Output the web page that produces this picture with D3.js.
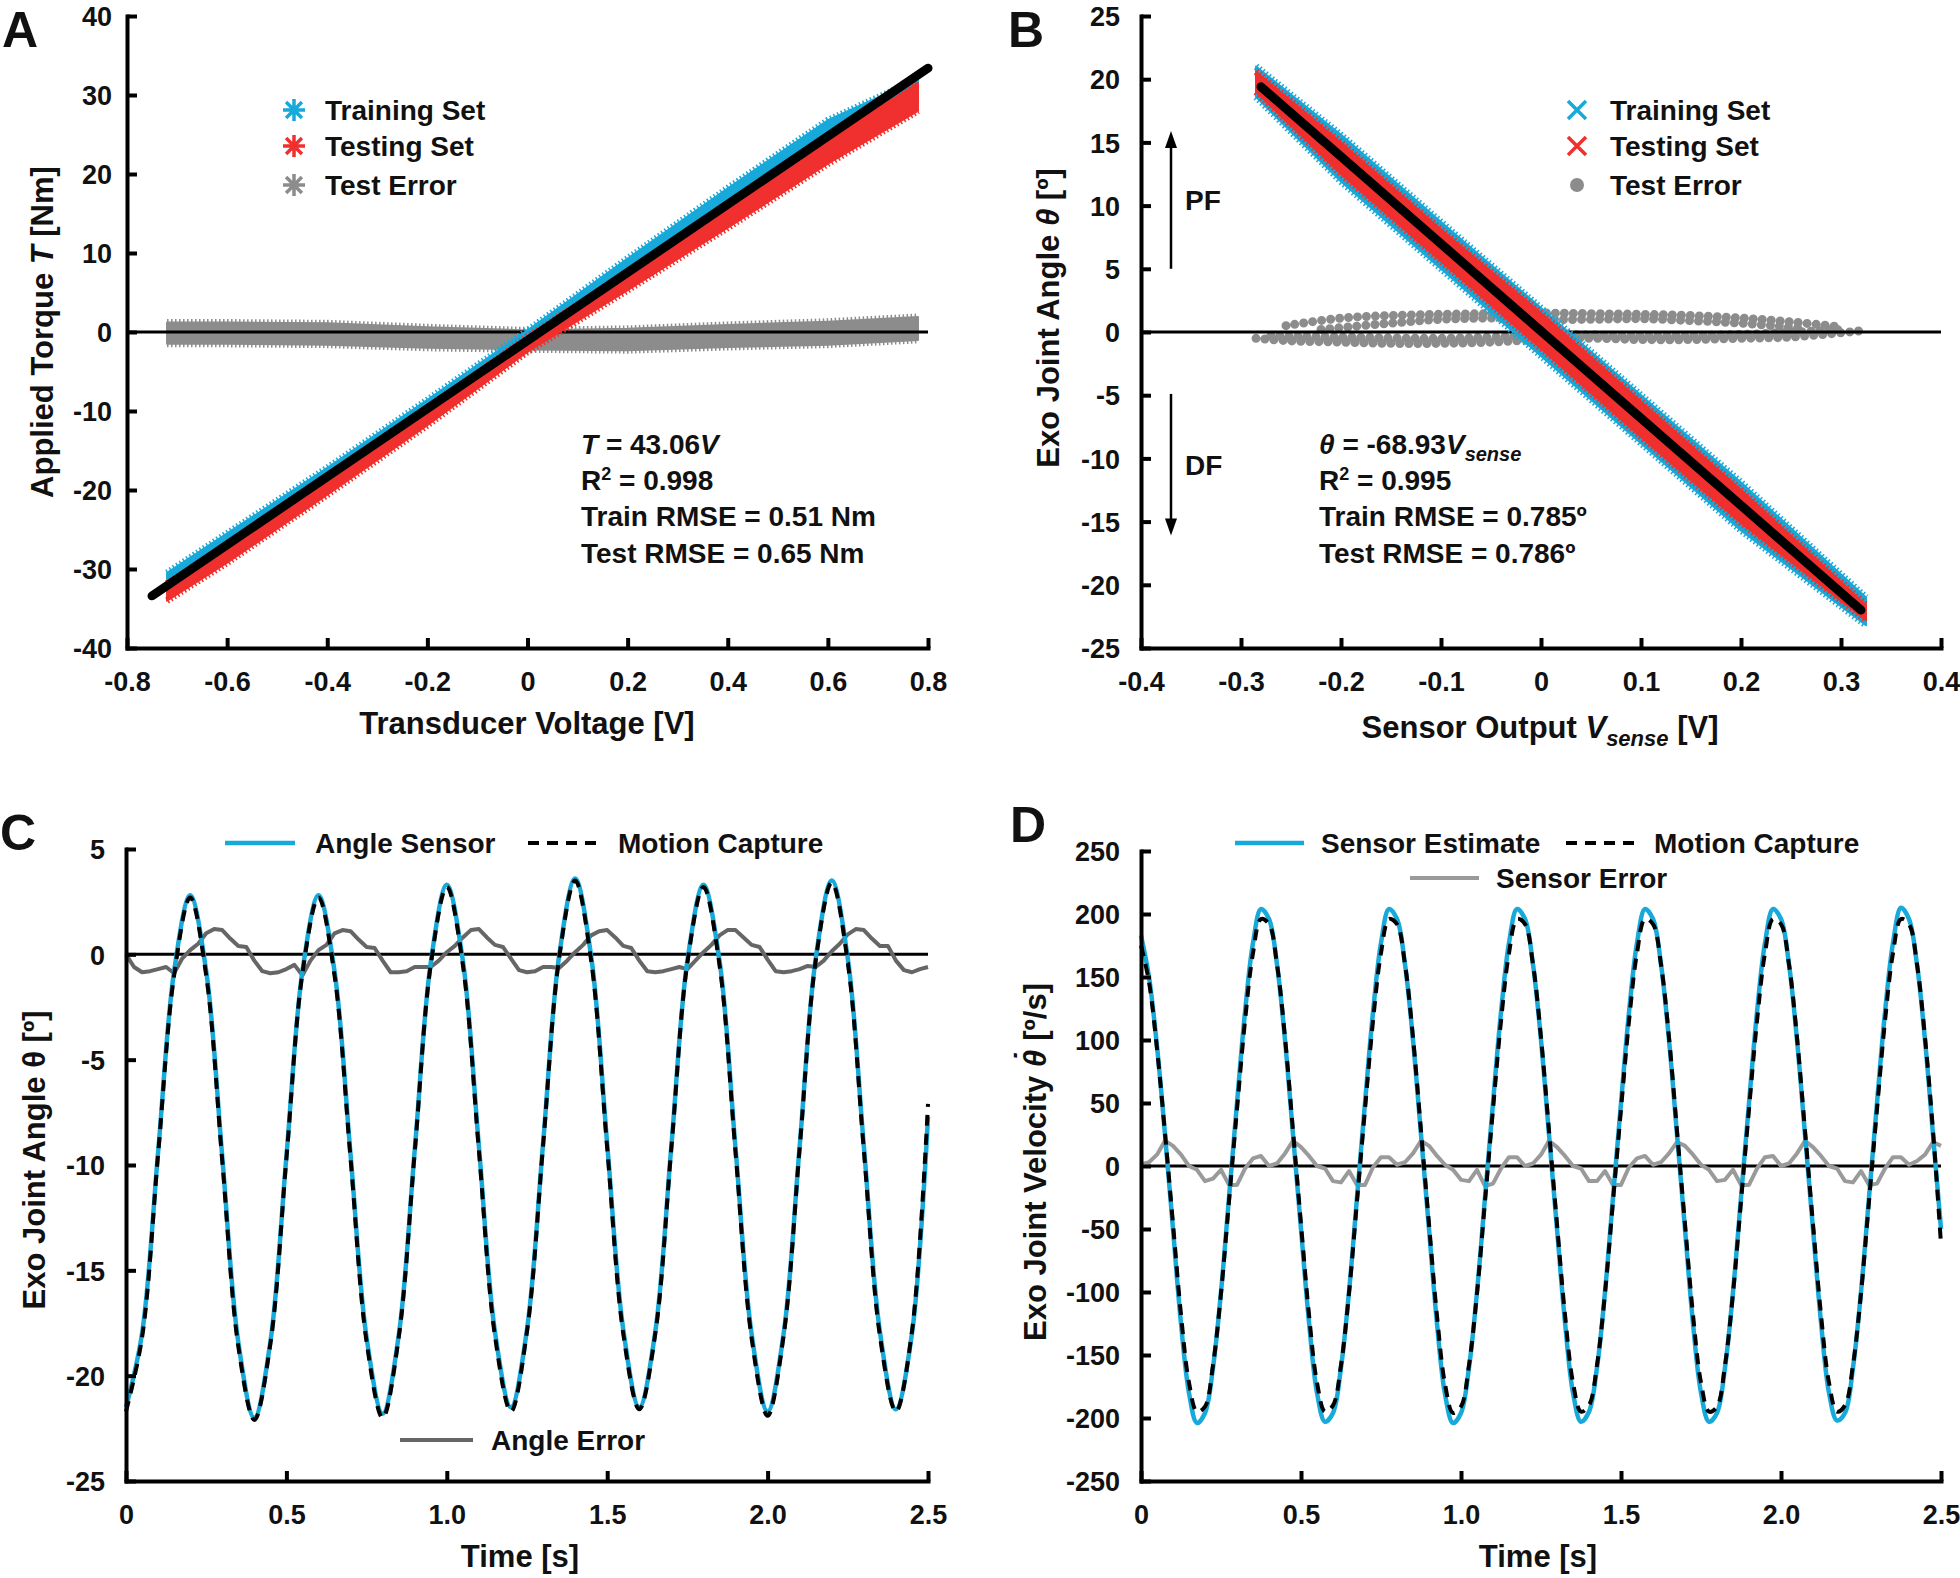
<!DOCTYPE html>
<html>
<head>
<meta charset="utf-8">
<script src="https://cdn.jsdelivr.net/npm/d3@7"></script>
<style>
body{margin:0;background:#fff;}
svg text{font-family:"Liberation Sans",Arial,sans-serif;font-weight:bold;fill:#111;}
</style>
</head>
<body>
<svg id="fig" width="1960" height="1578"></svg>
<script>
var cyan='#17a9d9', red='#f0302e';

// ---- panel A : torque calibration ----
var aBandV    = [-0.72, -0.6, -0.4, -0.2, 0, 0.2, 0.4, 0.6, 0.78];
var aTrainTop = [-30.5, -25.5, -17.2, -8.6, 0.2, 9.3, 18.2, 26.8, 32.0];
var aTrainBot = [-33.0, -28.5, -19.8, -11.0, -2.3, 6.0, 14.8, 23.5, 29.5];
var aTestTop  = [-31.8, -27.0, -18.6, -9.8, -0.6, 7.5, 15.8, 24.3, 31.5];
var aTestBot  = [-34.0, -29.2, -20.6, -11.8, -2.5, 5.3, 13.2, 21.3, 28.0];
var aErrTop   = [1.2, 1.2, 1.1, 0.6, 0.2, 0.4, 0.9, 1.3, 1.9];
var aErrBot   = [-1.5, -1.5, -1.6, -2.0, -2.2, -2.3, -1.9, -1.6, -1.0];
var aFitV = [-0.75, 0.80], aFitT = [-33.4, 33.4];
var aXTicks = [-0.8,-0.6,-0.4,-0.2,0,0.2,0.4,0.6,0.8];
var aXLabels = ['-0.8','-0.6','-0.4','-0.2','0','0.2','0.4','0.6','0.8'];
var aYTicks = [-40,-30,-20,-10,0,10,20,30,40];

// ---- panel B : angle sensor calibration ----
var bBandV    = [-0.285, -0.2, -0.1, 0, 0.1, 0.2, 0.325];
var bTrainTop = [21.0, 15.6, 8.7, 1.9, -5.0, -11.9, -21.0];
var bTrainBot = [18.6, 11.9, 5.0, -1.9, -8.8, -15.7, -23.2];
var bTestTop  = [20.6, 15.0, 8.1, 1.5, -5.5, -12.5, -21.6];
var bTestBot  = [19.0, 12.5, 5.6, -1.3, -8.3, -15.1, -22.8];
var bFitV = [-0.28, 0.32], bFitA = [19.4, -22.0];
var bErrV1 = [-0.255,-0.2,-0.15,-0.1,-0.05,0,0.05,0.1,0.15,0.2,0.25,0.3];
var bErrA1 = [0.5,1.1,1.3,1.4,1.45,1.5,1.45,1.4,1.3,1.1,0.8,0.4];
var bErrV2 = [-0.22,-0.15,-0.1,-0.05,0,0.05,0.1,0.15,0.2,0.26];
var bErrA2 = [0.2,0.7,1.0,1.1,1.0,1.0,1.05,0.9,0.7,0.3];
var bErrV3 = [-0.285,-0.25,-0.2,-0.15,-0.1,-0.05,0,0.05,0.1,0.15,0.2,0.25,0.32];
var bErrA3 = [-0.5,-0.7,-0.8,-0.9,-0.9,-0.8,-0.6,-0.5,-0.6,-0.6,-0.5,-0.4,0.1];
var bErrV4 = [-0.27,-0.2,-0.1,-0.05,0,0.1,0.2,0.3];
var bErrA4 = [-0.3,-0.4,-0.5,-0.4,-0.2,-0.3,-0.2,0.2];
var bXTicks = [-0.4,-0.3,-0.2,-0.1,0,0.1,0.2,0.3,0.4];
var bXLabels = ['-0.4','-0.3','-0.2','-0.1','0','0.1','0.2','0.3','0.4'];
var bYTicks = [-25,-20,-15,-10,-5,0,5,10,15,20,25];

// ---- panel C : joint angle over time (0.05 s samples) ----
var cSensor = [-21.5,-18.0,-9.4,-0.8,2.8,-0.8,-9.6,-18.4,-22.0,-18.4,-9.6,-0.8,2.8,-0.8,-9.5,-18.2,
  -21.8,-18.1,-9.3,-0.4,3.3,-0.3,-9.1,-17.9,-21.5,-17.8,-9.0,-0.1,3.6,-0.1,-9.0,-17.8,
  -21.5,-17.9,-9.1,-0.3,3.3,-0.3,-9.2,-18.0,-21.7,-18.0,-9.1,-0.2,3.5,-0.2,-9.1,-17.9,-21.6,-18.0,-7.7];
var cMocap = [-21.7,-18.2,-9.5,-1.0,2.7,-1.0,-9.8,-18.6,-22.1,-18.5,-9.7,-0.9,2.7,-1.0,-9.7,-18.4,
  -22.0,-18.2,-9.4,-0.5,3.2,-0.5,-9.3,-18.1,-21.7,-17.9,-9.1,-0.2,3.5,-0.3,-9.2,-18.0,
  -21.6,-18.0,-9.2,-0.4,3.2,-0.5,-9.4,-18.2,-21.9,-18.1,-9.2,-0.3,3.4,-0.4,-9.3,-18.1,-21.7,-17.9,-7.1];
// angle error, 0.025 s samples
var cError = [0.0,-0.6,-0.85,-0.8,-0.7,-0.6,-0.9,-0.2,0.2,0.5,1.0,1.2,1.15,0.75,0.4,0.35,
  -0.3,-0.8,-0.9,-0.85,-0.7,-0.5,-1.0,-0.3,0.2,0.45,1.0,1.15,1.1,0.7,0.35,0.3,
  -0.3,-0.85,-0.85,-0.8,-0.6,-0.6,-0.6,-0.3,0.1,0.4,0.8,1.15,1.2,0.8,0.45,0.35,
  -0.2,-0.75,-0.85,-0.8,-0.6,-0.6,-0.65,-0.3,0.1,0.45,0.9,1.1,1.15,0.8,0.4,0.3,
  -0.3,-0.8,-0.85,-0.8,-0.7,-0.6,-0.7,-0.3,0.1,0.45,0.9,1.15,1.15,0.8,0.45,0.35,
  -0.25,-0.8,-0.85,-0.8,-0.7,-0.55,-0.6,-0.3,0.15,0.5,0.95,1.2,1.15,0.75,0.4,0.4,
  -0.3,-0.75,-0.85,-0.7,-0.6];
var cYTicks = [-25,-20,-15,-10,-5,0,5];

// ---- panel D : joint velocity over time (0.025 s samples) ----
var dSensor = [183,150,95,25,-50,-125,-180,-204,-196,-160,-100,-25,50,122,177,204,
  196,160,100,25,-50,-124,-180,-203,-196,-160,-100,-25,50,122,177,204,
  196,160,100,25,-50,-125,-181,-204,-196,-160,-100,-25,50,122,177,204,
  196,160,100,25,-50,-124,-180,-203,-195,-160,-100,-25,50,122,177,204,
  196,160,100,25,-50,-125,-180,-203,-196,-160,-100,-25,50,122,177,204,
  196,160,100,25,-50,-124,-180,-202,-196,-160,-100,-25,50,122,177,205,
  196,160,100,25,-50];
var dMocap = [175,146,93,26,-46,-118,-172,-195,-191,-158,-101,-28,45,115,169,196,
  192,160,102,28,-46,-118,-172,-195,-190,-158,-101,-28,45,115,169,196,
  192,160,102,28,-46,-119,-173,-196,-191,-158,-101,-28,45,115,169,196,
  192,160,102,28,-46,-118,-172,-195,-190,-158,-101,-28,45,115,169,196,
  192,160,102,28,-46,-118,-172,-195,-191,-158,-101,-28,45,115,169,196,
  192,160,102,28,-46,-118,-172,-195,-190,-158,-101,-28,45,115,169,196,
  192,160,102,28,-62];
var dError = [1,3,9,20,16,9,0,-3,-12,-10,-3,-15,-15,-2,6,8,
  0,2,10,20,15,8,0,-2,-12,-13,-4,-15,-15,-1,7,7,
  1,3,10,20,16,8,1,-3,-11,-12,-3,-16,-14,-2,7,7,
  0,2,9,20,15,8,0,-2,-12,-12,-4,-15,-15,-1,6,8,
  1,3,10,19,16,9,1,-3,-12,-11,-3,-15,-15,-2,7,8,
  0,2,10,20,15,8,0,-2,-12,-13,-4,-15,-14,-2,7,7,
  1,4,9,19,16];
var dYTicks = [-250,-200,-150,-100,-50,0,50,100,150,200,250];
var tTicks = [0,0.5,1,1.5,2,2.5];
var tLabels = ['0','0.5','1.0','1.5','2.0','2.5'];

// sample time grids
var tCoarse = d3.range(0, 2.5001, 0.05);
var tFine = d3.range(0, 2.5001, 0.025);

var svg = d3.select('#fig');

function drawAxes(x, y, xTicks, xLabels, yTicks, yPad){
    var x0 = x.range()[0], y0 = y.range()[0];
    var ya = svg.append('g').attr('transform','translate('+x0+',0)')
        .call(d3.axisRight(y).tickValues(yTicks).tickSize(10).tickSizeOuter(0).tickFormat(function(d){ return String(d); }));
    ya.selectAll('text').attr('x',-yPad).attr('text-anchor','end').attr('dy','0.36em');
    var xa = svg.append('g').attr('transform','translate(0,'+y0+')')
        .call(d3.axisTop(x).tickValues(xTicks).tickSize(10).tickSizeOuter(0).tickFormat(function(d,i){ return xLabels[i]; }));
    xa.selectAll('text').attr('y',33).attr('dy','0.36em');
    [ya, xa].forEach(function(a){
        a.attr('font-size',27).attr('font-family',null);
        a.select('.domain').attr('stroke-width',4).attr('stroke-linecap','square');
        a.selectAll('.tick line').attr('stroke-width',4);
    });
}

function zeroLine(x, y){
    svg.append('line')
        .attr('x1',x.range()[0]).attr('x2',x.range()[1])
        .attr('y1',y(0)).attr('y2',y(0))
        .attr('stroke','#000').attr('stroke-width',3);
}

// scatter cloud: filled band with a serrated rim to look like dense markers
function band(x, y, xs, top, bot, color){
    var rows = d3.zip(xs, top, bot);
    var area = d3.area()
        .x(function(d){ return x(d[0]); })
        .y0(function(d){ return y(d[2]); })
        .y1(function(d){ return y(d[1]); });
    svg.append('path').datum(rows)
        .attr('d', area).attr('fill', color)
        .attr('stroke', color).attr('stroke-width', 2).attr('stroke-linejoin','round');
    [1,2].forEach(function(k){
        svg.append('path').datum(rows)
            .attr('d', d3.line().x(function(d){ return x(d[0]); }).y(function(d){ return y(d[k]); }))
            .attr('fill','none').attr('stroke',color).attr('stroke-width',7)
            .attr('stroke-dasharray','1.5 2.5');
    });
}

function fitLine(x, y, xs, ys){
    svg.append('path').datum(d3.zip(xs, ys))
        .attr('d', d3.line().x(function(d){ return x(d[0]); }).y(function(d){ return y(d[1]); }))
        .attr('stroke','#000').attr('stroke-width',9).attr('stroke-linecap','round').attr('fill','none');
}

function series(x, y, ts, vals, color, width, dash, curve){
    var p = svg.append('path').datum(d3.zip(ts, vals))
        .attr('d', d3.line().curve(curve).x(function(d){ return x(d[0]); }).y(function(d){ return y(d[1]); }))
        .attr('fill','none').attr('stroke',color).attr('stroke-width',width).attr('stroke-linejoin','round');
    if(dash) p.attr('stroke-dasharray',dash);
    return p;
}

function asterisk(cx, cy, r, color){
    var d2 = r*0.72;
    svg.append('path')
        .attr('d','M'+(cx-r)+','+cy+'H'+(cx+r)+'M'+cx+','+(cy-r)+'V'+(cy+r)+
            'M'+(cx-d2)+','+(cy-d2)+'L'+(cx+d2)+','+(cy+d2)+'M'+(cx-d2)+','+(cy+d2)+'L'+(cx+d2)+','+(cy-d2))
        .attr('stroke',color).attr('stroke-width',3.5);
}
function cross(cx, cy, r, color){
    svg.append('path')
        .attr('d','M'+(cx-r)+','+(cy-r)+'L'+(cx+r)+','+(cy+r)+'M'+(cx-r)+','+(cy+r)+'L'+(cx+r)+','+(cy-r))
        .attr('stroke',color).attr('stroke-width',3.5);
}

function label(txt, x, y, size){
    return svg.append('text').attr('x',x).attr('y',y).attr('dy','0.35em')
        .attr('font-size',size||28).text(txt);
}

function yTitle(x, y, parts){
    var t = svg.append('text').attr('transform','translate('+x+','+y+') rotate(-90)')
        .attr('text-anchor','middle').attr('font-size',31).attr('dy','0.35em');
    parts.forEach(function(p){
        var s = t.append('tspan').text(p[0]);
        if(p[1]) s.attr('font-style','italic');
    });
    return t;
}

function panelLetter(txt, x, y){
    svg.append('text').attr('x',x).attr('y',y).attr('font-size',50).text(txt);
}

// ================= Panel A =================
var xA = d3.scaleLinear().domain([-0.8,0.8]).range([127,928]);
var yA = d3.scaleLinear().domain([-40,40]).range([648,16]);
band(xA, yA, aBandV, aErrTop, aErrBot, '#8c8c8c');
zeroLine(xA, yA);
band(xA, yA, aBandV, aTrainTop, aTrainBot, cyan);
band(xA, yA, aBandV, aTestTop, aTestBot, red);
fitLine(xA, yA, aFitV, aFitT);
drawAxes(xA, yA, aXTicks, aXLabels, aYTicks, 15);
panelLetter('A', 2, 47);
asterisk(294,110,11,cyan); label('Training Set',325,110);
asterisk(294,146,11,red); label('Testing Set',325,146);
asterisk(294,185,11,'#8c8c8c'); label('Test Error',325,185);
var eqA = label('',581,444); eqA.append('tspan').attr('font-style','italic').text('T');
eqA.append('tspan').text(' = 43.06'); eqA.append('tspan').attr('font-style','italic').text('V');
var r2A = label('R',581,480); r2A.append('tspan').attr('font-size',18).attr('dy',-10).text('2');
r2A.append('tspan').attr('dy',10).text(' = 0.998');
label('Train RMSE = 0.51 Nm',581,516);
label('Test RMSE = 0.65 Nm',581,553);
yTitle(42, 332, [['Applied Torque '],['T',1],[' [Nm]']]);
svg.append('text').attr('x',527).attr('y',723).attr('dy','0.35em').attr('text-anchor','middle')
    .attr('font-size',31).text('Transducer Voltage [V]');

// ================= Panel B =================
var xB = d3.scaleLinear().domain([-0.4,0.4]).range([1141,1941]);
var yB = d3.scaleLinear().domain([-25,25]).range([648,16]);
[[bErrV1,bErrA1],[bErrV2,bErrA2],[bErrV3,bErrA3],[bErrV4,bErrA4]].forEach(function(tr){
    series(xB, yB, tr[0], tr[1], '#8c8c8c', 9, '0 9', d3.curveCatmullRom).attr('stroke-linecap','round');
});
zeroLine(xB, yB);
band(xB, yB, bBandV, bTrainTop, bTrainBot, cyan);
band(xB, yB, bBandV, bTestTop, bTestBot, red);
fitLine(xB, yB, bFitV, bFitA);
drawAxes(xB, yB, bXTicks, bXLabels, bYTicks, 21);
panelLetter('B', 1008, 47);
cross(1577,110,9,cyan); label('Training Set',1610,110);
cross(1577,146,9,red); label('Testing Set',1610,146);
svg.append('circle').attr('cx',1577).attr('cy',185).attr('r',7).attr('fill','#8c8c8c');
label('Test Error',1610,185);

// PF / DF arrows (annotation, placed in data units)
var arrowV = -0.37;
function arrow(from, to){
    var xp = xB(arrowV), y1 = yB(from), y2 = yB(to), dir = y2 < y1 ? -1 : 1;
    svg.append('line').attr('x1',xp).attr('x2',xp).attr('y1',y1).attr('y2',y2 - dir*12)
        .attr('stroke','#000').attr('stroke-width',2.5);
    svg.append('path').attr('d','M'+xp+','+y2+'L'+(xp-6)+','+(y2-dir*17)+'L'+(xp+6)+','+(y2-dir*17)+'Z')
        .attr('fill','#000');
}
arrow(5.0, 15.9);
arrow(-4.9, -16.1);
label('PF', 1185, 200);
label('DF', 1185, 465);

var eqB = label('',1319,444);
eqB.append('tspan').attr('font-style','italic').text('θ');
eqB.append('tspan').text(' = -68.93');
eqB.append('tspan').attr('font-style','italic').text('V');
eqB.append('tspan').attr('font-style','italic').attr('font-size',20).attr('dy',7).text('sense');
var r2B = label('R',1319,480); r2B.append('tspan').attr('font-size',18).attr('dy',-10).text('2');
r2B.append('tspan').attr('dy',10).text(' = 0.995');
label('Train RMSE = 0.785º',1319,516);
label('Test RMSE = 0.786º',1319,553);
yTitle(1048, 318, [['Exo Joint Angle '],['θ',1],[' [º]']]);
var xtB = svg.append('text').attr('x',1540).attr('y',727).attr('dy','0.35em').attr('text-anchor','middle').attr('font-size',31);
xtB.append('tspan').text('Sensor Output ');
xtB.append('tspan').attr('font-style','italic').text('V');
xtB.append('tspan').attr('font-style','italic').attr('font-size',22).attr('dy',8).text('sense');
xtB.append('tspan').attr('dy',-8).text(' [V]');

// ================= Panel C =================
var xC = d3.scaleLinear().domain([0,2.5]).range([126,928]);
var yC = d3.scaleLinear().domain([-25,5]).range([1481,849]);
zeroLine(xC, yC);
series(xC, yC, tFine, cError, '#666666', 4, null, d3.curveLinear);
series(xC, yC, tCoarse, cSensor, cyan, 4.5, null, d3.curveCatmullRom);
series(xC, yC, tCoarse, cMocap, '#000', 4, '11 8', d3.curveCatmullRom);
drawAxes(xC, yC, tTicks, tLabels, cYTicks, 21);
panelLetter('C', 0, 850);
svg.append('line').attr('x1',225).attr('x2',295).attr('y1',843).attr('y2',843).attr('stroke',cyan).attr('stroke-width',4.5);
label('Angle Sensor',315,843);
svg.append('line').attr('x1',528).attr('x2',600).attr('y1',843).attr('y2',843).attr('stroke','#000').attr('stroke-width',4).attr('stroke-dasharray','11 8');
label('Motion Capture',618,843);
svg.append('line').attr('x1',400).attr('x2',473).attr('y1',1440).attr('y2',1440).attr('stroke','#666666').attr('stroke-width',4);
label('Angle Error',491,1440);
yTitle(34, 1160, [['Exo Joint Angle θ [º]']]);
svg.append('text').attr('x',520).attr('y',1556).attr('dy','0.35em').attr('text-anchor','middle').attr('font-size',31).text('Time [s]');

// ================= Panel D =================
var xD = d3.scaleLinear().domain([0,2.5]).range([1141,1941]);
var yD = d3.scaleLinear().domain([-250,250]).range([1481,851]);
zeroLine(xD, yD);
series(xD, yD, tFine, dError, '#9a9a9a', 4, null, d3.curveLinear);
series(xD, yD, tFine, dSensor, cyan, 4.5, null, d3.curveCatmullRom);
series(xD, yD, tFine, dMocap, '#000', 4, '11 8', d3.curveCatmullRom);
drawAxes(xD, yD, tTicks, tLabels, dYTicks, 21);
panelLetter('D', 1010, 842);
svg.append('line').attr('x1',1235).attr('x2',1304).attr('y1',843).attr('y2',843).attr('stroke',cyan).attr('stroke-width',4.5);
label('Sensor Estimate',1321,843);
svg.append('line').attr('x1',1566).attr('x2',1638).attr('y1',843).attr('y2',843).attr('stroke','#000').attr('stroke-width',4).attr('stroke-dasharray','11 8');
label('Motion Capture',1654,843);
svg.append('line').attr('x1',1410).attr('x2',1479).attr('y1',878).attr('y2',878).attr('stroke','#9a9a9a').attr('stroke-width',4);
label('Sensor Error',1496,878);
// velocity title: theta with a dot placed above it
var ytD = yTitle(1035, 1162, [['Exo Joint Velocity '],['θ',1]]);
ytD.append('tspan').attr('dx','-0.42em').attr('dy','-0.28em').attr('font-style','italic').text('˙');
ytD.append('tspan').attr('dx','0.1em').attr('dy','0.28em').text(' [º/s]');
svg.append('text').attr('x',1538).attr('y',1556).attr('dy','0.35em').attr('text-anchor','middle').attr('font-size',31).text('Time [s]');
</script>
</body>
</html>
